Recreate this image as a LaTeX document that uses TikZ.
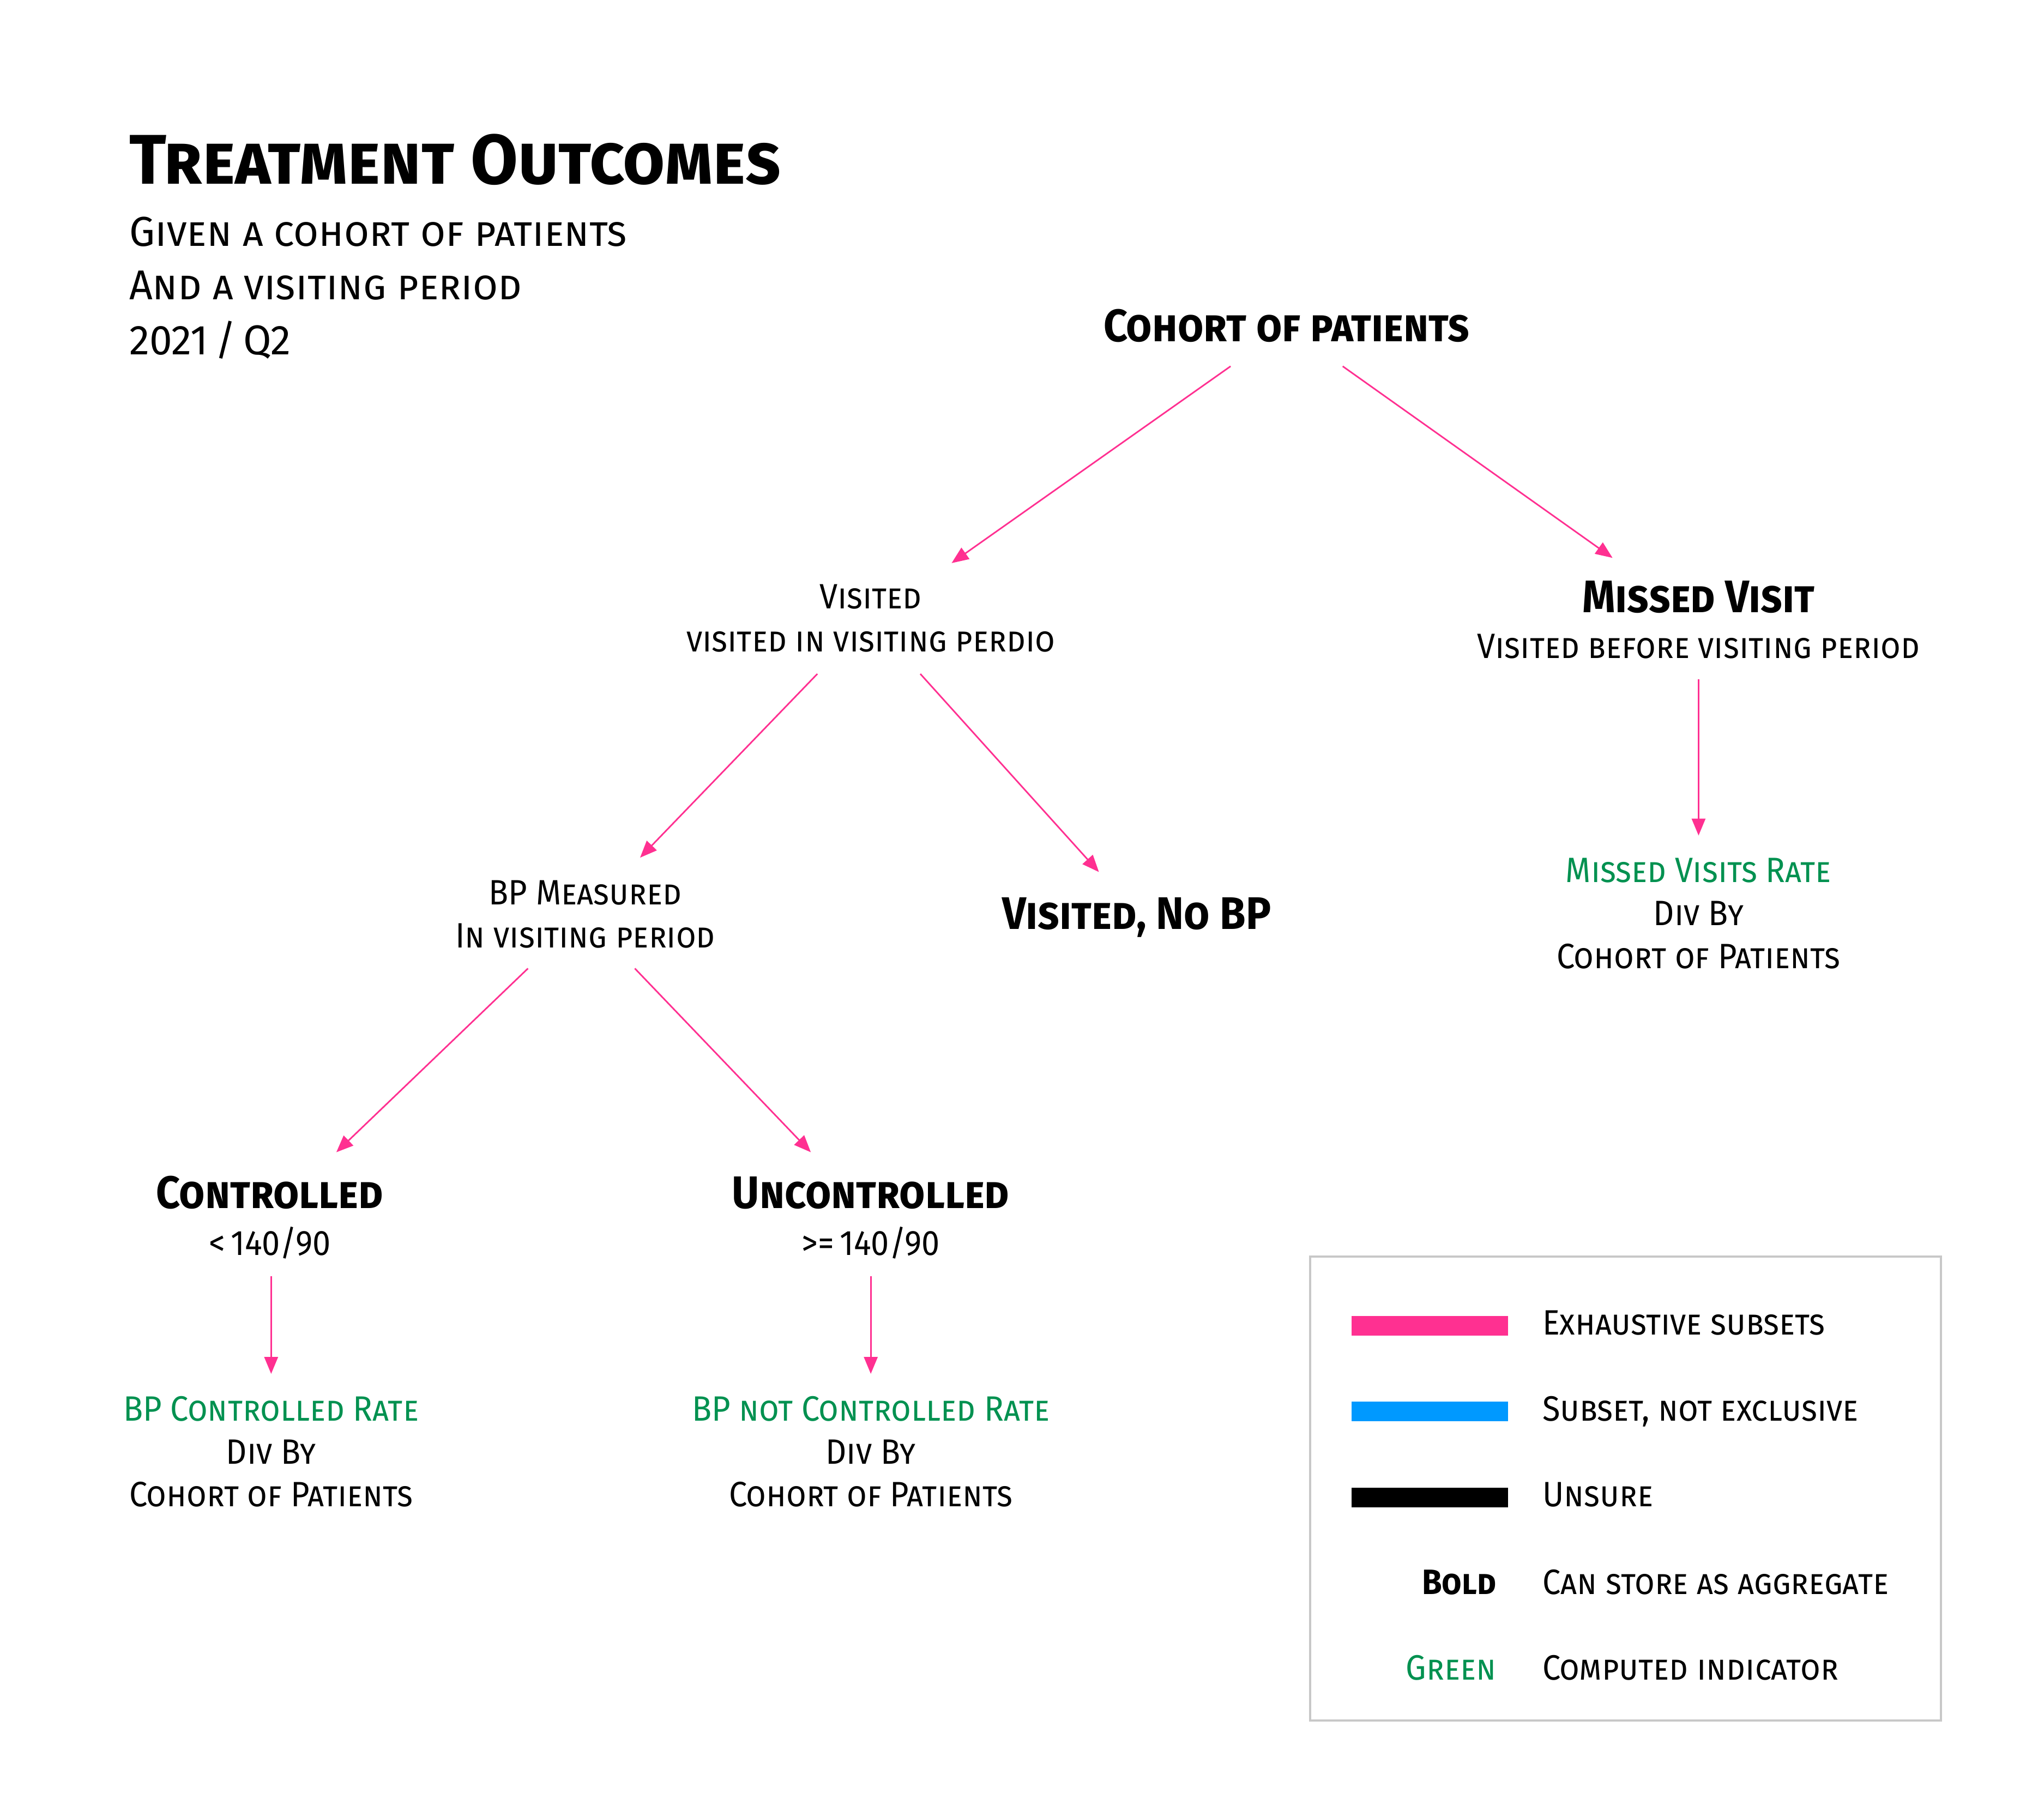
\documentclass[tikz,border=0pt]{standalone}
\usepackage{fontspec}
\setmainfont{Fira Sans}[Letters=SmallCaps, FakeStretch=0.92]
\newfontfamily\titlefont{Fira Sans}[Letters=SmallCaps, FakeStretch=0.975]
\usetikzlibrary{arrows.meta,calc}
\definecolor{mypink}{HTML}{FF3091}
\definecolor{myblue}{HTML}{0099FF}
\definecolor{mygreen}{HTML}{009150}
\definecolor{boxgray}{HTML}{C8C8C8}
\begin{document}
\begin{tikzpicture}[x=1pt,y=-1pt,
  titlestyle/.style={font=\titlefont\fontsize{54}{60}\selectfont\bfseries, anchor=base west, inner sep=0pt},
  substyle/.style={font=\titlefont\fontsize{32}{36}\selectfont, anchor=base west, inner sep=0pt},
  headstyle/.style={font=\fontsize{35}{40}\selectfont\bfseries, anchor=base, inner sep=0pt},
  txtstyle/.style={font=\fontsize{27}{30}\selectfont, anchor=base, inner sep=0pt},
  grnstyle/.style={txtstyle, text=mygreen},
  arr/.style={-{Triangle[length=13pt,width=10.5pt]}, draw=mypink, line width=1.2pt},
  legbar/.style={minimum width=120pt, minimum height=15pt, inner sep=0pt},
  legtxt/.style={font=\fontsize{27}{30}\selectfont, anchor=base west, inner sep=0pt},
  legkey/.style={font=\fontsize{27}{30}\selectfont, anchor=base east, inner sep=0pt}
]
\useasboundingbox[fill=white] (0,0) rectangle (1568,1394);

% title block
\node[titlestyle] (title) at (99,141) {Treatment Outcomes};
\node[substyle] (sub1) at (99,189) {Given a cohort of patients};
\node[substyle] (sub2) at (99,230) {And a visiting period};
\node[substyle] (sub3) at (99,272) {2021\,/\,Q2};

% tree nodes
\node[headstyle] (cohort) at (987,262) {Cohort of patients};

\node[txtstyle] (visited) at (668,467) {Visited};
\node[txtstyle] (visitedsub) at (668,500) {visited in visiting perdio};

\node[headstyle] (missed) at (1303,470) {Missed Visit};
\node[txtstyle] (missedsub) at (1303,505) {Visited before visiting period};

\node[grnstyle] (mvr) at (1303,677) {Missed Visits Rate};
\node[txtstyle] (mvr2) at (1303,710) {Div By};
\node[txtstyle] (mvr3) at (1303,743) {Cohort of Patients};

\node[txtstyle] (bpm) at (449,694) {BP Measured};
\node[txtstyle] (bpmsub) at (449,727) {In visiting period};

\node[headstyle] (nobp) at (872,713) {Visited, No BP};

\node[headstyle] (ctrl) at (207,927) {Controlled};
\node[txtstyle] (ctrlsub) at (207,963) {<\,140/90};

\node[headstyle] (unctrl) at (668,927) {Uncontrolled};
\node[txtstyle] (unctrlsub) at (668,963) {>=\,140/90};

\node[grnstyle] (bpcr) at (208,1090) {BP Controlled Rate};
\node[txtstyle] (bpcr2) at (208,1123) {Div By};
\node[txtstyle] (bpcr3) at (208,1156) {Cohort of Patients};

\node[grnstyle] (bpncr) at (668,1090) {BP not Controlled Rate};
\node[txtstyle] (bpncr2) at (668,1123) {Div By};
\node[txtstyle] (bpncr3) at (668,1156) {Cohort of Patients};

% connectors
\draw[arr] ([shift={(-43,19)}]cohort.base) -- ([shift={(62,-35)}]visited.base);
\draw[arr] ([shift={(43,19)}]cohort.base) -- ([shift={(-66,-42)}]missed.base);
\draw[arr] ([shift={(0,16)}]missedsub.base) -- ([shift={(0,-36)}]mvr.base);
\draw[arr] ([shift={(-41,17)}]visitedsub.base) -- ([shift={(42,-36)}]bpm.base);
\draw[arr] ([shift={(38,17)}]visitedsub.base) -- ([shift={(-29,-44)}]nobp.base);
\draw[arr] ([shift={(-44,16)}]bpmsub.base) -- ([shift={(51,-43)}]ctrl.base);
\draw[arr] ([shift={(38,16)}]bpmsub.base) -- ([shift={(-46,-43)}]unctrl.base);
\draw[arr] ([shift={(1,16)}]ctrlsub.base) -- ([shift={(0,-36)}]bpcr.base);
\draw[arr] ([shift={(0,16)}]unctrlsub.base) -- ([shift={(0,-36)}]bpncr.base);

% legend
\draw[boxgray, line width=1.5pt] (1005,964) rectangle (1489,1320);
\node[legbar, fill=mypink] (lb1) at (1097,1017) {};
\node[legbar, fill=myblue] (lb2) at (1097,1083) {};
\node[legbar, fill=black] (lb3) at (1097,1149) {};
\node[legkey, font=\fontsize{27}{30}\selectfont\bfseries] (lk4) at (1148,1223) {Bold};
\node[legkey, text=mygreen] (lk5) at (1148,1289) {Green};
\node[legtxt] (lt1) at (1183,1024) {Exhaustive subsets};
\node[legtxt] (lt2) at (1183,1090) {Subset, not exclusive};
\node[legtxt] (lt3) at (1183,1156) {Unsure};
\node[legtxt] (lt4) at (1183,1223) {Can store as aggregate};
\node[legtxt] (lt5) at (1183,1289) {Computed indicator};
\end{tikzpicture}
\end{document}
